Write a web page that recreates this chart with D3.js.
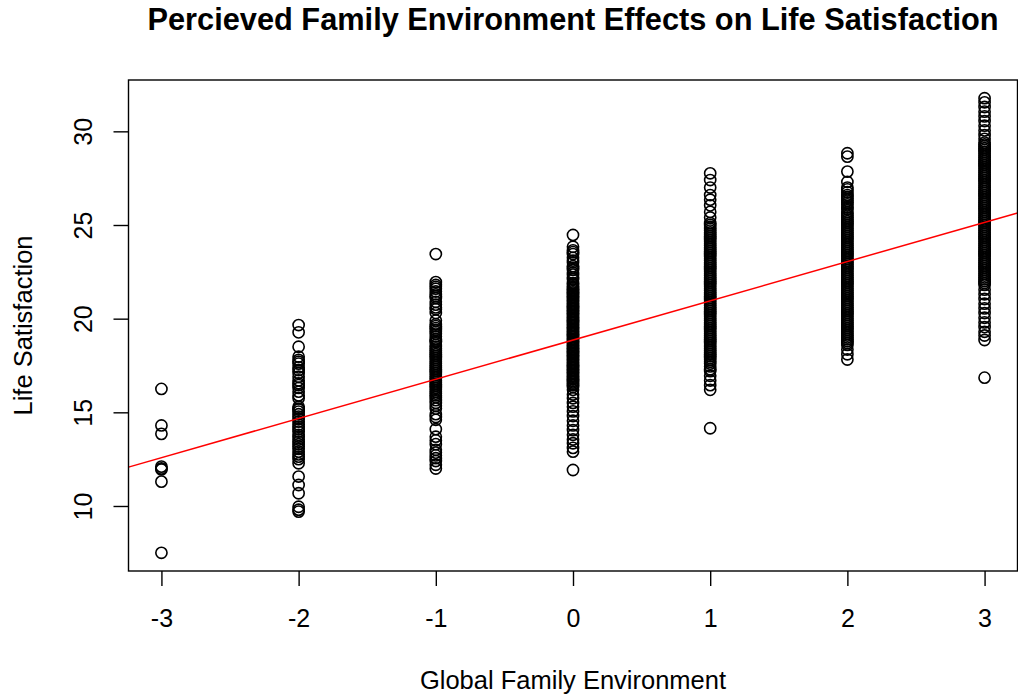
<!DOCTYPE html>
<html>
<head>
<meta charset="utf-8">
<script src="https://cdn.jsdelivr.net/npm/d3@7"></script>
<style>
  html, body { margin: 0; padding: 0; background: #fff; }
  svg { display: block; font-family: "Liberation Sans", Arial, Helvetica, sans-serif; }
</style>
</head>
<body>
<svg id="chart" width="1018" height="698"></svg>
<script>
// ---- Data ----
const title = "Percieved Family Environment Effects on Life Satisfaction";
const xLabel = "Global Family Environment";
const yLabel = "Life Satisfaction";
const xTicks = [-3, -2, -1, 0, 1, 2, 3];
const yTicks = [10, 15, 20, 25, 30];

const groupM3 = [16.25, 14.3, 13.85, 12.1, 12.0, 11.95, 11.3, 7.5];
const groupM2 = [19.66, 19.27, 18.5, 17.97, 17.8, 17.6, 17.26, 16.9, 16.7, 16.55, 16.3, 16.1, 15.75,
  15.3, 15.15, 15.04, 14.9, 14.77, 14.5, 14.35, 14.23, 13.97, 13.8, 13.7, 13.43, 13.17, 12.9, 12.75,
  12.63, 12.28, 11.57, 11.12, 10.68, 9.96, 9.8, 9.7,
  17.7, 17.4, 17.1, 16.45, 15.9, 15.2, 14.65, 14.1, 13.55, 13.3, 13.05, 12.5];
const groupM1 = [23.45, 21.95, 21.8, 21.6, 21.45, 21.3, 21.1, 20.9, 20.75, 20.6, 20.3, 19.9, 19.7, 19.6,
  19.4, 19.2, 18.9, 18.75, 18.6, 18.5, 18.3, 18.1, 17.9, 17.8, 17.6, 17.5, 17.4, 17.2, 17.1, 17.0, 16.9,
  16.8, 16.6, 16.5, 16.4, 16.2, 16.1, 16.0, 15.8, 15.5, 15.2, 14.9, 14.6, 14.1, 13.7, 13.3, 13.0, 12.7,
  12.4, 12.2, 12.0,
  21.7, 21.2, 20.5, 19.5, 19.3, 19.05, 18.8, 18.4, 18.2, 18.0, 17.7, 17.3, 16.7, 16.3, 15.9, 15.65,
  15.35, 14.75, 13.5, 12.85, 12.55];
const group0 = [24.47, 23.84, 23.65, 23.45, 23.25, 23.0, 22.8, 22.6, 22.35, 22.1, 21.9, 21.7, 21.55,
  21.4, 21.25, 21.1, 20.95, 20.8, 20.65, 20.5, 20.35, 20.2, 20.05, 19.9, 19.75, 19.6, 19.45, 19.3, 19.15,
  19.0, 18.85, 18.7, 18.55, 18.4, 18.25, 18.1, 17.95, 17.8, 17.65, 17.5, 17.35, 17.2, 17.05, 16.9, 16.75,
  16.6, 16.45, 16.2, 15.95, 15.75, 15.5, 15.3, 15.05, 14.8, 14.55, 14.3, 14.05, 13.8, 13.55, 13.35, 13.1,
  12.9, 11.92,
  23.55, 23.1, 22.7, 22.45, 22.2, 21.8, 21.62, 21.47, 21.32, 21.17, 21.02, 20.87, 20.72, 20.57, 20.42,
  20.27, 20.12, 19.97, 19.82, 19.67, 19.52, 19.37, 19.22, 19.07, 18.92, 18.77, 18.62, 18.47, 18.32,
  18.17, 18.02, 17.87, 17.72, 17.57, 17.42, 17.27, 17.12, 16.97, 16.82, 16.67, 16.52, 16.35];
const group1 = [27.76, 27.4, 27.0, 26.6, 26.35, 26.05, 25.7, 25.4, 25.1, 24.9, 24.7, 24.5, 24.3, 24.1,
  23.9, 23.7, 23.5, 23.3, 23.1, 22.9, 22.7, 22.5, 22.3, 22.1, 21.9, 21.7, 21.5, 21.3, 21.1, 20.9, 20.7,
  20.5, 20.3, 20.1, 19.9, 19.7, 19.5, 19.3, 19.1, 18.9, 18.7, 18.5, 18.3, 18.1, 17.9, 17.7, 17.45, 17.2,
  16.95, 16.7, 16.45, 16.2, 14.15,
  25.0, 24.8, 24.6, 24.4, 24.2, 24.0, 23.8, 23.6, 23.4, 23.2, 23.0, 22.8, 22.6, 22.4, 22.2, 22.0, 21.8,
  21.6, 21.4, 21.2, 21.0, 20.8, 20.6, 20.4, 20.2, 20.0, 19.8, 19.6, 19.4, 19.2, 19.0, 18.8, 18.6, 18.4,
  18.2, 18.0, 17.8, 17.6, 17.3];
const group2 = [28.83, 28.65, 27.85, 27.3, 27.0, 26.75, 26.5, 26.3, 26.1, 25.85, 25.6, 25.4, 25.2, 25.0,
  24.8, 24.6, 24.4, 24.2, 24.0, 23.8, 23.6, 23.4, 23.2, 23.0, 22.8, 22.6, 22.4, 22.2, 22.0, 21.8, 21.6,
  21.4, 21.2, 21.0, 20.8, 20.6, 20.4, 20.2, 20.0, 19.8, 19.6, 19.4, 19.2, 19.0, 18.8, 18.6, 18.35, 18.1,
  17.82,
  26.9, 26.6, 26.4, 26.2, 25.95, 25.7, 25.5, 25.3, 25.1, 24.9, 24.7, 24.5, 24.3, 24.1, 23.9, 23.7, 23.5,
  23.3, 23.1, 22.9, 22.7, 22.5, 22.3, 22.1, 21.9, 21.7, 21.5, 21.3, 21.1, 20.9, 20.7, 20.5, 20.3, 20.1,
  19.9, 19.7, 19.5, 19.3, 19.1, 18.9, 18.7];
const group3 = [31.77, 31.55, 31.3, 31.05, 30.8, 30.55, 30.3, 30.05, 29.8, 29.6, 29.4, 29.2, 29.0, 28.8,
  28.6, 28.4, 28.2, 28.0, 27.8, 27.6, 27.4, 27.2, 27.0, 26.8, 26.6, 26.4, 26.2, 26.0, 25.8, 25.6, 25.4,
  25.2, 25.0, 24.8, 24.6, 24.4, 24.2, 24.0, 23.8, 23.6, 23.4, 23.2, 23.0, 22.8, 22.6, 22.4, 22.2, 22.0,
  21.8, 21.55, 21.3, 21.05, 20.8, 20.55, 20.3, 20.05, 19.8, 19.55, 19.3, 19.1, 18.86, 16.85,
  29.3, 29.1, 28.9, 28.7, 28.5, 28.3, 28.1, 27.9, 27.7, 27.5, 27.3, 27.1, 26.9, 26.7, 26.5, 26.3, 26.1,
  25.9, 25.7, 25.5, 25.3, 25.1, 24.9, 24.7, 24.5, 24.3, 24.1, 23.9, 23.7, 23.5, 23.3, 23.1, 22.9, 22.7,
  22.5, 22.3, 22.1, 21.9];

const groupX = [-3, -2, -1, 0, 1, 2, 3];
const groupValues = [groupM3, groupM2, groupM1, group0, group1, group2, group3];

// Regression line y = intercept + slope * x
const intercept = 18.86;
const slope = 2.094;

// ---- Layout ----
const svg = d3.select("#chart");
const plot = { left: 128.5, right: 1017.5, top: 80, bottom: 571 };

const points = [];
groupX.forEach((gx, i) => groupValues[i].forEach(v => points.push({ x: gx, y: v })));

const xExt = d3.extent(points, d => d.x);
const yExt = d3.extent(points, d => d.y);
const xPad = (xExt[1] - xExt[0]) * 0.04;
const yPad = (yExt[1] - yExt[0]) * 0.04;

const x = d3.scaleLinear().domain([xExt[0] - xPad, xExt[1] + xPad]).range([plot.left, plot.right]);
const y = d3.scaleLinear().domain([yExt[0] - yPad, yExt[1] + yPad]).range([plot.bottom, plot.top]);

svg.append("defs").append("clipPath").attr("id", "clip")
  .append("rect")
  .attr("x", plot.left).attr("y", plot.top)
  .attr("width", plot.right - plot.left).attr("height", plot.bottom - plot.top);

// Points
svg.append("g")
  .selectAll("circle")
  .data(points)
  .join("circle")
  .attr("cx", d => x(d.x))
  .attr("cy", d => y(d.y))
  .attr("r", 5.6)
  .attr("fill", "none")
  .attr("stroke", "#000")
  .attr("stroke-width", 1.6);

// Regression line
const xd = x.domain();
svg.append("line")
  .attr("clip-path", "url(#clip)")
  .attr("x1", x(xd[0])).attr("y1", y(intercept + slope * xd[0]))
  .attr("x2", x(xd[1])).attr("y2", y(intercept + slope * xd[1]))
  .attr("stroke", "#ff0000")
  .attr("stroke-width", 1.5);

// Box
svg.append("rect")
  .attr("x", plot.left).attr("y", plot.top)
  .attr("width", plot.right - plot.left).attr("height", plot.bottom - plot.top)
  .attr("fill", "none").attr("stroke", "#000").attr("stroke-width", 1.4);

// X axis
const xAxis = d3.axisBottom(x).tickValues(xTicks).tickSize(15).tickPadding(23).tickFormat(d3.format("d"));
const gx = svg.append("g").attr("transform", `translate(0,${plot.bottom})`).call(xAxis);
gx.select(".domain").remove();
gx.selectAll(".tick line").attr("stroke", "#000").attr("stroke-width", 1.4);
gx.selectAll(".tick text").attr("font-size", 25).attr("fill", "#000")
  .attr("font-family", "Liberation Sans, Arial, sans-serif")
  .text(d => d < 0 ? "-" + Math.abs(d) : String(d));

// Y axis
const yAxis = d3.axisLeft(y).tickValues(yTicks).tickSize(15).tickFormat(d3.format("d"));
const gy = svg.append("g").attr("transform", `translate(${plot.left},0)`).call(yAxis);
gy.select(".domain").remove();
gy.selectAll(".tick line").attr("stroke", "#000").attr("stroke-width", 1.4);
gy.selectAll(".tick text")
  .attr("font-size", 25).attr("fill", "#000")
  .attr("font-family", "Liberation Sans, Arial, sans-serif")
  .attr("x", null).attr("dy", null)
  .attr("text-anchor", "middle")
  .attr("transform", `translate(${92 - plot.left},0) rotate(-90)`);

// Title
const t = svg.append("text")
  .attr("x", (plot.left + plot.right) / 2).attr("y", 30)
  .attr("text-anchor", "middle")
  .attr("font-weight", "bold").attr("font-size", 29).attr("fill", "#000")
  .text(title);
const tl = t.node().getComputedTextLength();
if (tl > 0) t.attr("font-size", 29 * 851 / tl);

// X label
svg.append("text")
  .attr("x", (plot.left + plot.right) / 2).attr("y", 689)
  .attr("text-anchor", "middle").attr("font-size", 25.5).attr("fill", "#000")
  .text(xLabel);

// Y label
svg.append("text")
  .attr("transform", `translate(32,${(plot.top + plot.bottom) / 2}) rotate(-90)`)
  .attr("text-anchor", "middle").attr("font-size", 25.5).attr("fill", "#000")
  .text(yLabel);
</script>
</body>
</html>
